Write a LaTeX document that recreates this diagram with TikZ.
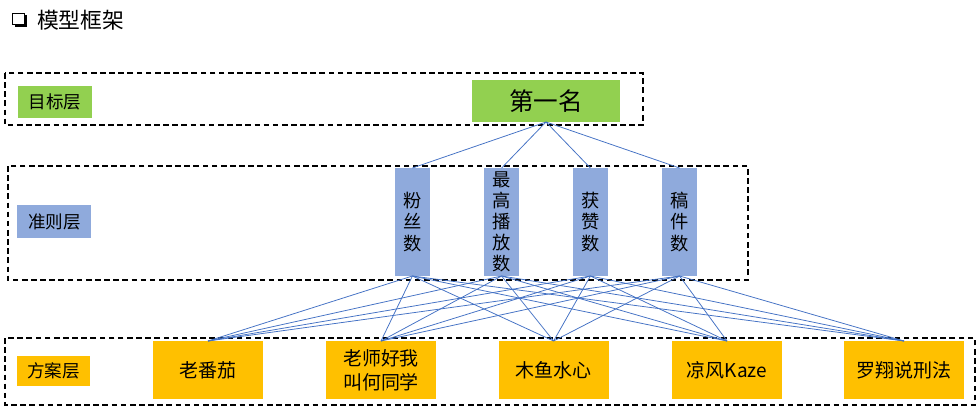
\documentclass[tikz,border=0pt]{standalone}
\usepackage{fontspec}
\setmainfont{Noto Sans CJK SC}
\usepackage{xcolor}
\usetikzlibrary{positioning, shadows}
\definecolor{goalgreen}{RGB}{146, 208, 80}
\definecolor{critblue}{RGB}{143, 170, 220}
\definecolor{planorange}{RGB}{255, 192, 0}
\definecolor{linkblue}{RGB}{68, 114, 196}

\begin{document}
\begin{tikzpicture}[
  every node/.style={inner sep=0pt, outer sep=0pt},
  layerbox/.style={draw=black, line width=0.9pt, dash pattern=on 4pt off 2.5pt},
  layertag/.style={fill=#1, font=\fontsize{12.5pt}{14pt}\selectfont,
    minimum width=1.85cm, minimum height=0.8cm},
  bar/.style={fill=critblue, minimum width=0.875cm, minimum height=2.7cm,
    align=center, font=\fontsize{13pt}{15pt}\selectfont},
  plan/.style={fill=planorange, minimum width=2.75cm, minimum height=1.45cm,
    align=center, font=\fontsize{13.5pt}{17pt}\selectfont},
  link/.style={draw=linkblue, line width=0.55pt}
]
\useasboundingbox (0,0) rectangle (24.475,-10.25);

  % Titolo
\node[draw=black, fill=white, line width=0.7pt, minimum size=0.29cm,
  general shadow={fill=black, shadow xshift=0.06cm, shadow yshift=-0.06cm}] (bullet) at (0.46,-0.47) {};
\node[anchor=west, font=\fontsize{15.5pt}{18pt}\selectfont] (title) at (0.93,-0.5) {模型框架};

  % Livelli tratteggiati
\draw[layerbox] (0.125,-1.825) rectangle (16.075,-3.125);
\draw[layerbox] (0.2,-4.15) rectangle (18.7,-7.0);
\draw[layerbox] (0.125,-8.45) rectangle (24.375,-10.125);

  % Etichette dei livelli
\node[layertag=goalgreen] (goaltag) at (1.375,-2.54) {目标层};
\node[layertag=critblue, minimum height=0.825cm] (crittag) at (1.36,-5.54) {准则层};
\node[layertag=planorange, minimum height=0.75cm, minimum width=1.825cm] (plantag) at (1.34,-9.275) {方案层};

  % Obiettivo
\node[fill=goalgreen, minimum width=3.7cm, minimum height=1.05cm,
  font=\fontsize{17.5pt}{20pt}\selectfont] (top) at (13.65,-2.525) {第一名};

  % Criteri
\node[bar] (fans) at (10.31,-5.55) {粉\\丝\\数};
\node[bar] (plays) at (12.54,-5.55) {最\\高\\播\\放\\数};
\node[bar] (likes) at (14.76,-5.55) {获\\赞\\数};
\node[bar] (posts) at (16.99,-5.55) {稿\\件\\数};

  % Alternative
\node[plan] (lfq) at (5.2,-9.25) {老番茄};
\node[plan] (lshh) at (9.525,-9.25) {老师好我\\叫何同学};
\node[plan] (myss) at (13.84,-9.25) {木鱼水心};
\node[plan] (lfk) at (18.175,-9.25) {凉风Kaze};
\node[plan, minimum width=3.0cm] (lxsf) at (22.6,-9.25) {罗翔说刑法};

  % Collegamenti
\foreach \c in {fans, plays, likes, posts} {
  \draw[link] (top.south) -- (\c.north);
  \foreach \p in {lfq, lshh, myss, lfk, lxsf}
    \draw[link] (\c.south) -- (\p.north);
}

\end{tikzpicture}
\end{document}
